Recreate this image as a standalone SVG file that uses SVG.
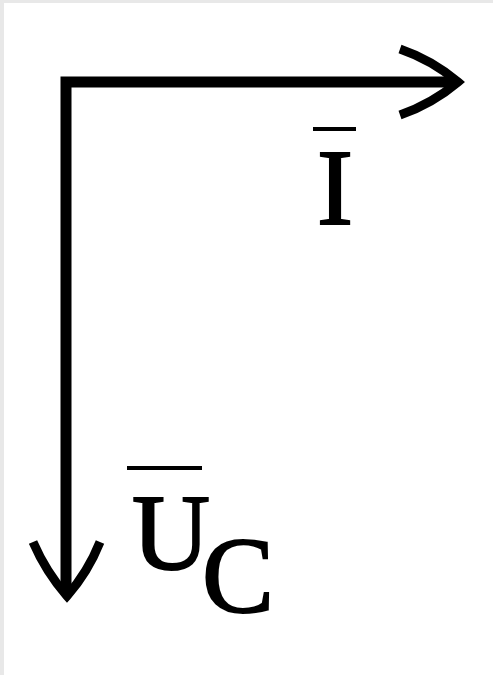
<svg xmlns="http://www.w3.org/2000/svg" width="493" height="675" viewBox="0 0 493 675">
<style>
.ln{fill:none;stroke:#000;stroke-width:11;stroke-linecap:butt;stroke-linejoin:miter}
.hd{fill:none;stroke:#000;stroke-width:9;stroke-linecap:butt;stroke-linejoin:miter}
.ov{stroke:#000;stroke-width:4}
.lb{font-family:"Liberation Serif","Times New Roman",serif;font-size:108px;fill:#000;stroke:#000;stroke-width:2}
</style>
<rect x="0" y="0" width="493" height="675" fill="#fff"/>
<rect x="0" y="0" width="493" height="3" fill="#e8e8e8"/>
<rect x="0" y="0" width="4" height="675" fill="#e8e8e8"/>
<g id="connectors">
<path class="ln" d="M456,82 H66 V592"/>
<path class="hd" d="M400,49 Q432,60 458,82 Q432,104 400,115"/>
<path class="hd" d="M33,542 Q46,572 67,596 Q88,572 100,542"/>
</g>
<g id="label-I">
<line class="ov" x1="313" y1="129" x2="356" y2="129"/>
<text class="lb" x="335" y="224" text-anchor="middle">I</text>
</g>
<g id="label-UC">
<line class="ov" x1="127" y1="468" x2="202" y2="468"/>
<text class="lb" x="171" y="569" text-anchor="middle">U</text>
<text class="lb" x="238" y="612" text-anchor="middle">C</text>
</g>
</svg>
